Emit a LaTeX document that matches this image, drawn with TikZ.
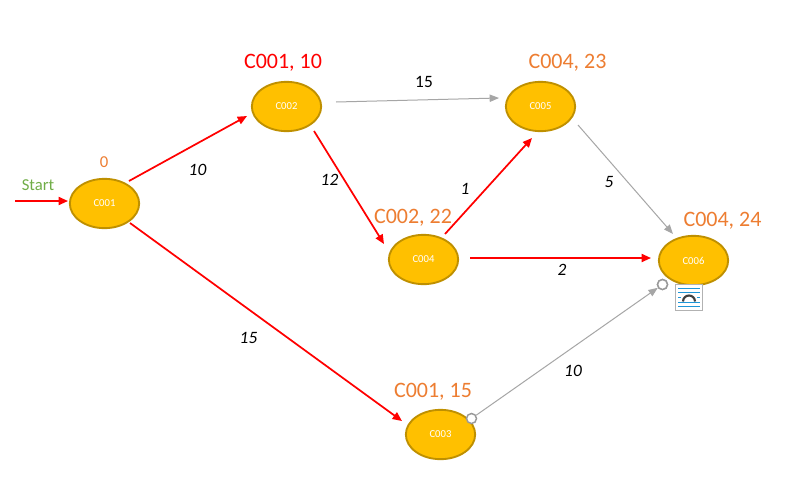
\documentclass[tikz,border=0pt]{standalone}
\usepackage{fontspec}
\setmainfont{Carlito}
\usetikzlibrary{arrows.meta,calc,shapes.geometric}
\definecolor{nodefill}{HTML}{FFC000}
\definecolor{nodeedge}{HTML}{BF9000}
\definecolor{labelorange}{HTML}{ED7D31}
\definecolor{startgreen}{HTML}{70AD47}
\definecolor{plainline}{HTML}{A6A6A6}
\definecolor{iconblue}{HTML}{1E96D8}
\tikzset{
  x=0.75pt,y=-0.75pt,
  taskbox/.style={ellipse,draw=nodeedge,fill=nodefill,line width=1.4pt,minimum width=52pt,minimum height=37pt,inner sep=0pt,text=white,font=\fontsize{8}{9}\selectfont},
  critical/.style={red,line width=1.3pt,-{Triangle[length=7pt,width=6pt]}},
  normal/.style={plainline,line width=0.75pt,-{Triangle[length=7pt,width=5.5pt]}},
  result/.style={labelorange,font=\fontsize{16.5}{18}\selectfont},
  weight/.style={font=\fontsize{13}{15}\selectfont\itshape},
  joint/.style={circle,draw=gray!80,fill=white,line width=1.1pt,minimum size=7.5pt,inner sep=0pt},
}
\begin{document}
\begin{tikzpicture}
\useasboundingbox (0,0) rectangle (787,493);
\fill[white] (0,0) rectangle (787,493);
\node[taskbox] (c1) at (104.5,203.5) {C001};
\node[taskbox] (c2) at (286.5,106.5) {C002};
\node[taskbox] (c3) at (440.5,434.5) {C003};
\node[taskbox] (c4) at (423.5,259.5) {C004};
\node[taskbox] (c5) at (540.5,106.5) {C005};
\node[taskbox] (c6) at (693.5,260.5) {C006};
\coordinate (entry) at (15,201);
% connectors
\draw[critical] (entry) -- ($(c1)+(-36.5,-2.5)$);
\draw[critical] ($(c1)+(24.5,-22.5)$) -- ($(c2)+(-39.5,9.5)$);
\draw[critical] ($(c1)+(25.5,19.5)$) -- ($(c3)+(-38.5,-13.5)$);
\draw[critical] ($(c2)+(27.5,24.5)$) -- ($(c4)+(-39.5,-15.5)$);
\draw[critical] ($(c4)+(21.5,-25.5)$) -- ($(c5)+(-8.5,31.5)$);
\draw[critical] ($(c4)+(46.5,-1.5)$) -- ($(c6)+(-42.5,-2.5)$);
\draw[normal] ($(c2)+(49.5,-4.5)$) -- ($(c5)+(-41.5,-8.5)$);
\draw[normal] ($(c5)+(37.5,18.5)$) -- ($(c6)+(-20.5,-26.5)$);
\node[joint] (j3) at (471.5,418.5) {};
\node[joint] (j6) at (662.5,284.5) {};
\draw[normal] (j3) -- (j6);
\node[joint] at (j6) {};
% icon
\node[draw=gray!60,fill=white,line width=0.8pt,minimum width=20.5pt,minimum height=20pt,inner sep=0pt] (icon) at (689,297.5) {};
\foreach \yy in {288.5,292.5,302.5,306.5}
  \draw[iconblue,line width=0.8pt] (678,\yy) -- (700,\yy);
\draw[iconblue,line width=0.7pt] (678,297.5) -- (681,297.5) (697,297.5) -- (700,297.5);
\draw[black!75,line width=1.6pt] (683,301.5) arc[start angle=180,end angle=0,x radius=6,y radius=-6];
% labels
\node[text=red,font=\fontsize{16.5}{18}\selectfont] at (283,62.5) {C001, 10};
\node[result] at (567.5,62.5) {C004, 23};
\node[result] at (413,217.5) {C002, 22};
\node[result] at (722.5,220.5) {C004, 24};
\node[result] at (433,391.5) {C001, 15};
\node[labelorange,font=\fontsize{12.5}{14}\selectfont] at (104,162.5) {0};
\node[startgreen,font=\fontsize{12.5}{14}\selectfont] at (38,185.5) {Start};
\node[weight] at (197.5,169.5) {10};
\node[weight] at (329.5,179.5) {12};
\node[weight] at (248.5,337.5) {15};
\node[weight] at (465,188.5) {1};
\node[weight] at (609,181.5) {5};
\node[weight] at (562,269.5) {2};
\node[weight] at (573,370.5) {10};
\node[font=\fontsize{13}{15}\selectfont] at (424,81.5) {15};
\end{tikzpicture}
\end{document}
